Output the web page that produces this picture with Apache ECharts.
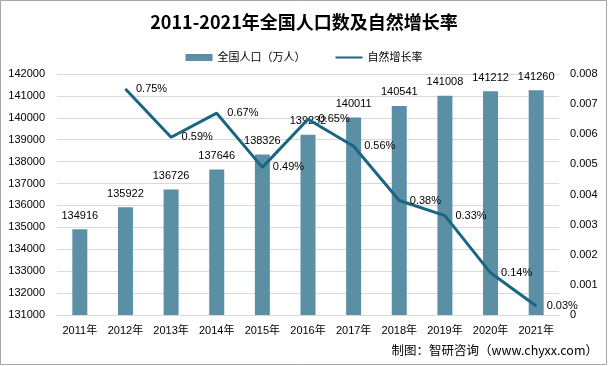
<!DOCTYPE html>
<html><head><meta charset="utf-8">
<style>html,body{margin:0;padding:0;background:#fff}#c{width:608px;height:366px}</style>
<script src="https://cdn.jsdelivr.net/npm/echarts@6/dist/echarts.min.js"></script>
</head><body><div id="c"></div>
<script>
const categories = ['2011年','2012年','2013年','2014年','2015年','2016年','2017年','2018年','2019年','2020年','2021年'];
const population = [134916,135922,136726,137646,138326,139232,140011,140541,141008,141212,141260];
const growthRate = [null,0.0075,0.0059,0.0067,0.0049,0.0065,0.0056,0.0038,0.0033,0.0014,0.0003];
const titleText = '2011-2021年全国人口数及自然增长率';
const sourceText = '制图：智研咨询（www.chyxx.com）';
const FONT = '"Liberation Sans","Noto Sans CJK SC",sans-serif';
const chart = echarts.init(document.getElementById('c'));
chart.setOption({
  backgroundColor:'#fff',
  animation:false,
  title:{text:titleText,left:'center',top:8,textStyle:{fontSize:18,fontWeight:'bold',color:'#000',fontFamily:'"Noto Sans CJK SC",sans-serif'}},
  legend:{top:47,left:'center',itemGap:30,textStyle:{fontSize:11,color:'#000',fontFamily:FONT},
    data:[{name:'全国人口（万人）',icon:'rect',itemStyle:{color:'#5b8fa6'}},
          {name:'自然增长率',icon:'path://M0,2.5H27V4.5H0Z M0,0H0.01V0.01H0Z M0,7H0.01V7.01H0Z',itemStyle:{color:'#1a6682'}}],
    itemWidth:27,itemHeight:7,symbolKeepAspect:false},
  grid:{left:57,right:49,top:74,bottom:51},
  xAxis:{type:'category',data:categories,axisTick:{show:false},
    axisLine:{lineStyle:{color:'#d9d9d9'}},
    axisLabel:{color:'#000',fontSize:11,margin:10,interval:0,fontFamily:FONT}},
  yAxis:[
    {type:'value',min:131000,max:142000,interval:1000,
     axisLabel:{color:'#000',fontSize:11,margin:12,fontFamily:FONT,formatter:v=>String(v)},
     splitLine:{lineStyle:{color:'#d9d9d9'}},axisLine:{show:false},axisTick:{show:false}},
    {type:'value',min:0,max:0.008,interval:0.001,
     axisLabel:{color:'#000',fontSize:11,margin:11,fontFamily:FONT,formatter:v=>v===0?'0':v.toFixed(3)},
     splitLine:{show:false},axisLine:{show:false},axisTick:{show:false}}
  ],
  series:[
    {name:'全国人口（万人）',type:'bar',data:population,barWidth:15,itemStyle:{color:'#5b8fa6'},
     label:{show:true,position:'top',distance:8,color:'#000',fontSize:11,fontFamily:FONT}},
    {name:'自然增长率',type:'line',yAxisIndex:1,data:growthRate,symbol:'circle',symbolSize:1,showSymbol:true,
     lineStyle:{color:'#1a6682',width:3},itemStyle:{color:'#1a6682'},
     label:{show:true,position:'right',distance:10,color:'#000',fontSize:11,fontFamily:FONT,
       formatter:p=>(p.value*100).toFixed(2)+'%'}}
  ],
  graphic:[
    {type:'rect',shape:{x:0.5,y:0.5,width:606,height:364},style:{fill:null,stroke:'#a6a6a6',lineWidth:1},silent:true},
    {type:'text',right:10,top:344,style:{text:sourceText,fontSize:12.5,fill:'#000',fontFamily:'"Noto Sans CJK SC",sans-serif'}}
  ]
});
</script></body></html>
